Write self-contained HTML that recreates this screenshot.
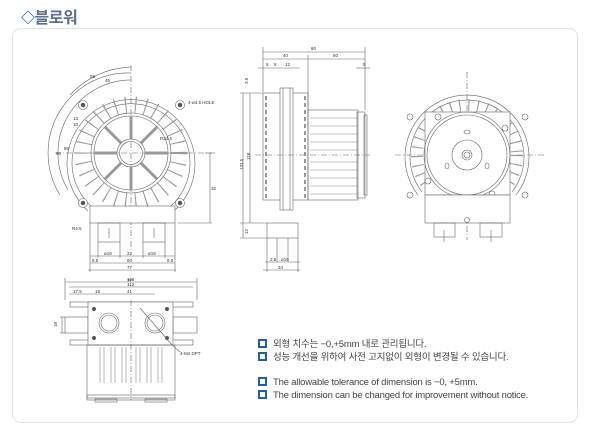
<!DOCTYPE html>
<html><head><meta charset="utf-8"><style>
html,body{margin:0;padding:0;background:#fff;}
body{width:600px;height:436px;position:relative;overflow:hidden;font-family:"Liberation Sans","Noto Sans CJK KR",sans-serif;}
.title{position:absolute;left:21px;top:4px;font-size:16px;color:#5d7089;font-weight:bold;letter-spacing:-0.5px;}
.title b{color:#1f5fa8;font-size:14px;}
.box{position:absolute;left:12px;top:28px;width:566px;height:395px;border:1px solid #dde3ea;border-radius:9px;box-sizing:border-box;}
.note{position:absolute;left:258px;font-size:9.5px;color:#444;white-space:nowrap;letter-spacing:-0.2px;}
.note i{display:inline-block;width:5px;height:5px;border:2px solid #1f5fa8;background:#fff;margin-right:6px;vertical-align:-1px;}
svg{position:absolute;left:0;top:0;}
</style></head><body>
<div class="title"><b>◇</b>블로워</div>
<div class="box"></div>
<svg width="600" height="436" viewBox="0 0 600 436" fill="none" stroke="#666" stroke-width="0.6" font-family="Liberation Sans, sans-serif" font-size="4.5">
<!-- FRONT VIEW -->
<g>
<line x1="131" y1="65" x2="131" y2="250" stroke-dasharray="6,2,1,2"/>
<line x1="55" y1="153" x2="215" y2="153" stroke-dasharray="6,2,1,2"/>
<path d="M88,211 A64,64 0 1 1 174,211"/>
<path d="M92,207 A59,59 0 1 1 170,207"/>
<circle cx="131" cy="153" r="48" stroke="#999" stroke-width="17" stroke-dasharray="1.1,8.9"/>
<circle cx="131" cy="153" r="40"/>
<circle cx="131" cy="153" r="37"/>
<circle cx="131" cy="153" r="14"/>
<circle cx="131" cy="153" r="11.5"/>
<g stroke-width="3" stroke="#999">
<line x1="131" y1="116" x2="131" y2="139"/><line x1="131" y1="167" x2="131" y2="190"/>
<line x1="94" y1="153" x2="117" y2="153"/><line x1="145" y1="153" x2="168" y2="153"/>
<line x1="105" y1="127" x2="121" y2="143"/><line x1="141" y1="163" x2="157" y2="179"/>
<line x1="157" y1="127" x2="141" y2="143"/><line x1="121" y1="163" x2="105" y2="179"/>
</g>
<g fill="#fff"><circle cx="83" cy="105" r="4.5"/><circle cx="180" cy="105" r="4.5"/><circle cx="83" cy="203" r="4.5"/><circle cx="180" cy="203" r="4.5"/></g>
<g fill="#555"><circle cx="83" cy="105" r="2"/><circle cx="180" cy="105" r="2"/><circle cx="83" cy="203" r="2"/><circle cx="180" cy="203" r="2"/></g>
<rect x="90" y="206" width="85" height="17" fill="#fff"/>
<rect x="98" y="223" width="22" height="19"/><rect x="143" y="223" width="22" height="19"/>
<line x1="109" y1="228" x2="109" y2="238"/><line x1="154" y1="228" x2="154" y2="238"/>
<path d="M131,80 A73,73 0 0 0 68,190"/><path d="M131,73 A80,80 0 0 0 60,195"/>
<path d="M131,67 A86,86 0 0 0 70,95"/>
<line x1="90" y1="256" x2="175" y2="256"/><line x1="90" y1="263" x2="175" y2="263"/><line x1="88" y1="270" x2="176" y2="270"/>
<line x1="90" y1="223" x2="90" y2="272"/><line x1="175" y1="223" x2="175" y2="272"/>
<line x1="98" y1="242" x2="98" y2="258"/><line x1="165" y1="242" x2="165" y2="258"/>
<line x1="120" y1="242" x2="120" y2="258"/><line x1="143" y1="242" x2="143" y2="258"/>
<line x1="205" y1="153" x2="212" y2="153"/><line x1="178" y1="223" x2="212" y2="223"/><line x1="210" y1="153" x2="210" y2="223"/>
<g fill="#333" stroke="none">
<text x="104" y="255">ø19</text><text x="127" y="255">22</text><text x="148" y="255">ø19</text>
<text x="127" y="262">60</text><text x="127" y="269">77</text><text x="92" y="262">8.5</text><text x="167" y="262">8.5</text>
<text x="211" y="190">32</text><text x="188" y="104">4-ø4.5 HOLE</text><text x="160" y="140">R24.5</text>
<text x="90" y="78">55</text><text x="105" y="82">45</text><text x="56" y="155">90</text><text x="64" y="150">80</text>
<text x="72" y="230">R4.5</text><text x="73" y="120">13</text><text x="73" y="126">10</text><text x="127" y="282">77</text>
</g>
</g>
<!-- SIDE VIEW -->
<g>
<line x1="263" y1="47" x2="263" y2="92"/><line x1="365" y1="47" x2="365" y2="110"/><line x1="308" y1="55" x2="308" y2="110"/>
<line x1="263" y1="52" x2="365" y2="52"/><line x1="263" y1="59" x2="308" y2="59"/><line x1="308" y1="59" x2="365" y2="59"/>
<line x1="258" y1="68" x2="300" y2="68"/><line x1="356" y1="68" x2="370" y2="68"/>
<rect x="263" y="93" width="45" height="107"/>
<rect x="280" y="88" width="13" height="122" fill="#fff"/>
<line x1="283" y1="88" x2="283" y2="210"/><line x1="290" y1="88" x2="290" y2="210"/>
<rect x="308" y="110" width="50" height="90"/>
<rect x="357" y="112" width="8" height="86"/><rect x="364" y="115" width="3" height="80"/>
<g stroke="#888"><line x1="310" y1="118" x2="357" y2="118"/><line x1="310" y1="126" x2="357" y2="126"/><line x1="310" y1="134" x2="357" y2="134"/><line x1="310" y1="142" x2="357" y2="142"/><line x1="310" y1="150" x2="357" y2="150"/><line x1="310" y1="162" x2="357" y2="162"/><line x1="310" y1="170" x2="357" y2="170"/><line x1="310" y1="178" x2="357" y2="178"/><line x1="310" y1="186" x2="357" y2="186"/><line x1="310" y1="194" x2="357" y2="194"/></g>
<g stroke="#555" stroke-width="1.2" stroke-dasharray="4,3"><line x1="266" y1="96" x2="266" y2="198"/><line x1="305" y1="96" x2="305" y2="198"/></g>
<line x1="255" y1="155" x2="370" y2="155" stroke-dasharray="6,2,1,2"/>
<rect x="267" y="223" width="31" height="15"/>
<line x1="277" y1="238" x2="277" y2="262"/><line x1="288" y1="238" x2="288" y2="262"/>
<line x1="267" y1="238" x2="267" y2="272"/><line x1="298" y1="238" x2="298" y2="272"/>
<line x1="265" y1="262" x2="300" y2="262"/><line x1="263" y1="270" x2="300" y2="270"/>
<line x1="243" y1="93" x2="243" y2="238"/><line x1="250" y1="93" x2="250" y2="223"/>
<line x1="240" y1="93" x2="263" y2="93"/><line x1="240" y1="223" x2="267" y2="223"/><line x1="240" y1="238" x2="267" y2="238"/>
<g fill="#333" stroke="none">
<text x="311" y="50">80</text><text x="283" y="57">40</text><text x="333" y="57">50</text>
<text x="266" y="66">5</text><text x="274" y="66">8</text><text x="285" y="66">12</text><text x="363" y="66">5</text>
<text x="250" y="160" transform="rotate(-90 250 160)">118</text><text x="243" y="170" transform="rotate(-90 243 170)">133.5</text>
<text x="248" y="84" transform="rotate(-90 248 84)">3.5</text><text x="248" y="234" transform="rotate(-90 248 234)">12</text>
<text x="270" y="261">2.5</text><text x="281" y="261">ø19</text><text x="278" y="269">34</text>
</g>
</g>
<!-- REAR VIEW -->
<g>
<line x1="467" y1="72" x2="467" y2="240" stroke-dasharray="6,2,1,2"/>
<line x1="395" y1="155" x2="545" y2="155" stroke-dasharray="6,2,1,2"/>
<path d="M418,195 A62,62 0 1 1 516,195"/><path d="M422,192 A57,57 0 1 1 512,192"/>
<circle cx="467" cy="155" r="50" stroke="#999" stroke-width="12" stroke-dasharray="1.1,8"/>
<rect x="425" y="112" width="85" height="83" fill="#fff"/>
<circle cx="467" cy="155" r="43"/><circle cx="467" cy="155" r="40"/>
<circle cx="467" cy="155" r="15"/><circle cx="467" cy="155" r="5"/><circle cx="467" cy="155" r="3"/>
<ellipse cx="467" cy="132" rx="3" ry="2"/><ellipse cx="447" cy="166" rx="2" ry="3"/><ellipse cx="487" cy="166" rx="2" ry="3"/>
<g><circle cx="438" cy="117" r="3"/><circle cx="505" cy="128" r="3"/><circle cx="428" cy="181" r="3"/><circle cx="492" cy="194" r="3"/>
<circle cx="410" cy="117" r="3"/><circle cx="525" cy="117" r="3"/><circle cx="410" cy="195" r="3"/><circle cx="525" cy="195" r="3"/></g>
<rect x="425" y="195" width="85" height="28" fill="#fff"/>
<circle cx="467" cy="220" r="2.5"/>
<rect x="434" y="223" width="21" height="14"/><rect x="480" y="223" width="22" height="14"/>
<line x1="444" y1="230" x2="444" y2="242"/><line x1="491" y1="230" x2="491" y2="242"/>
</g>
<!-- BOTTOM VIEW -->
<g>
<line x1="65" y1="278" x2="65" y2="300"/><line x1="197" y1="278" x2="197" y2="300"/>
<line x1="65" y1="282" x2="197" y2="282"/><line x1="69" y1="287" x2="193" y2="287"/>
<line x1="69" y1="294" x2="155" y2="294"/>
<g fill="#333" stroke="none"><text x="127" y="281">118</text><text x="127" y="286">112</text><text x="73" y="293">17.5</text><text x="95" y="293">18</text><text x="127" y="293">41</text><text x="57" y="327" transform="rotate(-90 57 327)">18</text><text x="180" y="355">4-M4 DPT</text><text x="137" y="313">ø18</text><text x="137" y="318">ø15</text></g>
<rect x="70" y="302" width="123" height="5"/><rect x="70" y="340" width="123" height="5"/>
<rect x="65" y="317" width="23" height="16"/><rect x="173" y="317" width="24" height="16"/>
<line x1="60" y1="317" x2="65" y2="317"/><line x1="60" y1="333" x2="65" y2="333"/><line x1="62" y1="317" x2="62" y2="333"/>
<rect x="88" y="302" width="85" height="43" fill="#fff"/>
<circle cx="109" cy="323" r="10"/><circle cx="109" cy="323" r="8"/>
<circle cx="155" cy="323" r="10"/><circle cx="155" cy="323" r="8"/>
<g fill="#555"><circle cx="94" cy="309" r="1.8"/><circle cx="167" cy="309" r="1.8"/><circle cx="94" cy="338" r="1.8"/><circle cx="167" cy="338" r="1.8"/></g>
<line x1="140" y1="308" x2="172" y2="345"/><line x1="172" y1="345" x2="180" y2="352"/>
<rect x="87" y="345" width="88" height="53"/>
<g stroke="#888"><line x1="100" y1="347" x2="100" y2="383"/><line x1="104" y1="347" x2="104" y2="383"/><line x1="111" y1="347" x2="111" y2="383"/><line x1="115" y1="347" x2="115" y2="383"/><line x1="122" y1="347" x2="122" y2="383"/><line x1="126" y1="347" x2="126" y2="383"/><line x1="136" y1="347" x2="136" y2="383"/><line x1="140" y1="347" x2="140" y2="383"/><line x1="147" y1="347" x2="147" y2="383"/><line x1="151" y1="347" x2="151" y2="383"/><line x1="158" y1="347" x2="158" y2="383"/><line x1="162" y1="347" x2="162" y2="383"/></g>
<line x1="131" y1="300" x2="131" y2="400" stroke-dasharray="6,2,1,2"/>
<rect x="87" y="395" width="88" height="5"/><rect x="95" y="399" width="22" height="3"/><rect x="145" y="399" width="22" height="3"/>
</g>
</svg>
<div class="note" style="top:336px"><i></i>외형 치수는 −0,+5mm 내로 관리됩니다.</div>
<div class="note" style="top:349px"><i></i>성능 개선을 위하여 사전 고지없이 외형이 변경될 수 있습니다.</div>
<div class="note" style="top:377px"><i></i>The allowable tolerance of dimension is −0, +5mm.</div>
<div class="note" style="top:390px"><i></i>The dimension can be changed for improvement without notice.</div>
</body></html>
